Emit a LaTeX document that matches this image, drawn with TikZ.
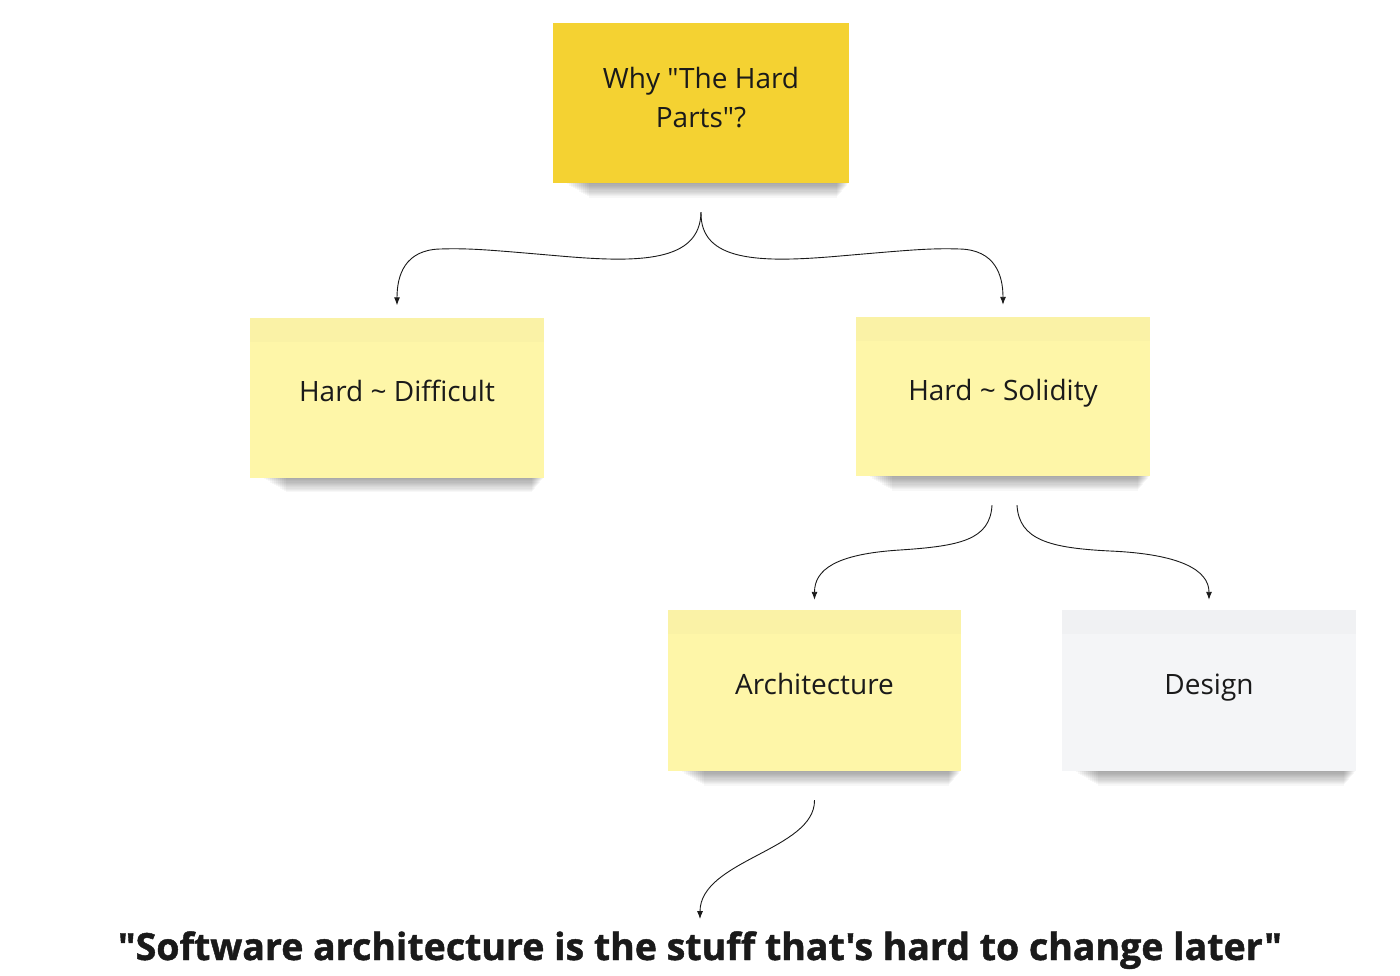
\documentclass[tikz,border=0pt]{standalone}
\usepackage{fontspec}
\usepackage{graphicx}
\newfontfamily\osans{Open Sans}
\newfontfamily\osansheavy{Open Sans}[BoldFeatures={FakeBold=1.2}]
\usetikzlibrary{arrows.meta}
\definecolor{gold}{HTML}{F4D232}
\definecolor{lightyel}{HTML}{FEF6A8}
\definecolor{lightyeltop}{HTML}{FAF2A6}
\definecolor{paleg}{HTML}{F4F5F7}
\definecolor{palegtop}{HTML}{F0F1F3}
\definecolor{ink}{HTML}{1A1A1A}
\tikzset{
  sticky/.style={rectangle, minimum width=294pt, minimum height=160pt, inner sep=0pt,
    font=\osans\fontsize{28}{39}\selectfont, text=ink},
  oneline/.style={text height=20pt, text depth=12pt},
  band/.style={path picture={\fill[#1] (path picture bounding box.north west) rectangle ([yshift=-24pt]path picture bounding box.north east);}},
  link/.style={draw=ink, line width=0.9pt, -{Latex[length=8pt,width=6pt]}},
  shadowstrip/.style={fill=black, opacity=0.032},
}
\newcommand\stickshadow[1]{%
  \foreach \k in {1,...,12}{%
    \fill[shadowstrip] ([xshift=12+2*\k]#1.south west) rectangle ([xshift=-1*\k, yshift=-1.2*\k]#1.south east);
  }%
}
\begin{document}
\begin{tikzpicture}[x=1pt,y=-1pt]
\useasboundingbox[fill=white] (0,0) rectangle (1400,975);

% sticky notes
\node[sticky, fill=gold, minimum width=296pt, align=center] (top) at (701,103)
  {Why "The Hard\\Parts"?\rule[-12pt]{0pt}{12pt}};
\node[sticky, oneline, fill=lightyel, band=lightyeltop] (diff) at (397,397.5) {Hard \textasciitilde{} Difficult};
\node[sticky, oneline, fill=lightyel, band=lightyeltop, minimum height=159pt] (sol) at (1003,396.5) {Hard \textasciitilde{} Solidity};
\node[sticky, oneline, fill=lightyel, band=lightyeltop, minimum width=293pt, minimum height=161pt] (arch) at (814.5,690.5) {Architecture};
\node[sticky, oneline, fill=paleg, band=palegtop, minimum height=161pt] (des) at (1209,690.5) {Design};

% shadows
\stickshadow{top}
\stickshadow{diff}
\stickshadow{sol}
\stickshadow{arch}
\stickshadow{des}

% quote
\node[font=\osansheavy\bfseries\fontsize{33}{40}\selectfont, text=ink, inner sep=0pt, anchor=base] (q) at (700,960)
  {\resizebox{1164pt}{!}{"Software architecture is the stuff that's hard to change later"}};

% connector anchors
\coordinate (f1) at ([yshift=-29pt]top.south);
\coordinate (ld) at ([yshift=12pt]diff.north);
\coordinate (rs) at ([yshift=12pt]sol.north);
\coordinate (s1) at ([xshift=-11pt,yshift=-29pt]sol.south);
\coordinate (s2) at ([xshift=14pt,yshift=-29pt]sol.south);
\coordinate (ta) at ([yshift=10pt]arch.north);
\coordinate (td) at ([yshift=10pt]des.north);
\coordinate (a1) at ([yshift=-29pt]arch.south);
\coordinate (qa) at ([yshift=12pt]q.north);

% connectors
\draw[link] (f1) .. controls (700,262) and (640,263) .. (560,256)
  .. controls (490,250) and (470,248) .. (440,249)
  .. controls (405,250) and (397,275) .. (ld);
\draw[link] (f1) .. controls (700,262) and (760,263) .. (840,256)
  .. controls (910,250) and (930,248) .. (960,249)
  .. controls (995,250) and (1003,275) .. (rs);
\draw[link] (s1) .. controls (990,540) and (960,546) .. (900,550)
  .. controls (835,554) and (814.5,570) .. (ta);
\draw[link] (s2) .. controls (1019,540) and (1050,548) .. (1110,551)
  .. controls (1180,554) and (1209,570) .. (td);
\draw[link] (a1) .. controls (815,850) and (700,860) .. (qa);
\end{tikzpicture}
\end{document}
